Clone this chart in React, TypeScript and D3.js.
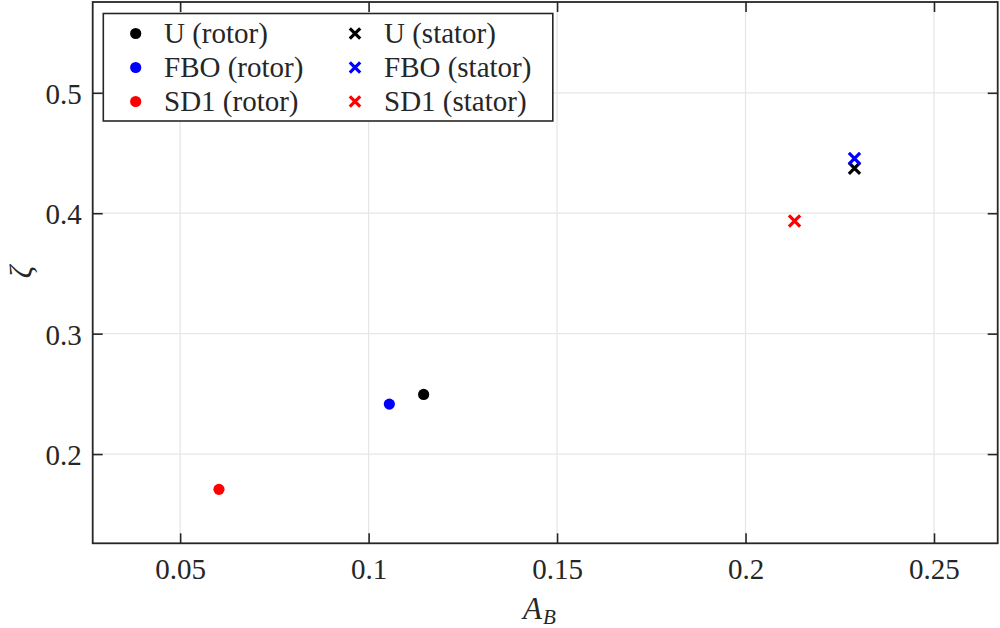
import React, {useEffect, useRef} from 'react'
import * as d3 from 'd3'

// values
const series = ['U', 'FBO', 'SD1']
const seriesColors = ['#000000', '#0000ff', '#ff0000']
const rotorAB = [0.1146, 0.1055, 0.0603]
const rotorZeta = [0.2495, 0.2415, 0.1707]
const statorAB = [0.2289, 0.2289, 0.2130]
const statorZeta = [0.4373, 0.4455, 0.3936]

const xTicks = [0.05, 0.1, 0.15, 0.2, 0.25]
const yTicks = [0.2, 0.3, 0.4, 0.5]
const xDomain = [0.0268, 0.2669]
const yDomain = [0.1259, 0.5754]

const W = 1000
const H = 628
const FONT = '"Liberation Serif", "Times New Roman", serif'

export default function App() {
    const svgRef = useRef<SVGSVGElement>(null)

    useEffect(() => {
        document.body.style.margin = '0'
        const svg = d3.select(svgRef.current)
        svg.selectAll('*').remove()

        const margin = {top: 2, right: 2.3, bottom: 84.7, left: 92.7}
        const iw = W - margin.left - margin.right
        const ih = H - margin.top - margin.bottom

        const x = d3.scaleLinear().domain(xDomain).range([0, iw])
        const y = d3.scaleLinear().domain(yDomain).range([ih, 0])

        svg.append('rect').attr('width', W).attr('height', H).attr('fill', '#fff')

        const g = svg.append('g').attr('transform', `translate(${margin.left},${margin.top})`)

        // grid
        g.append('g')
            .selectAll('line.gx')
            .data(xTicks)
            .join('line')
            .attr('x1', (d) => x(d))
            .attr('x2', (d) => x(d))
            .attr('y1', 0)
            .attr('y2', ih)
            .attr('stroke', '#e6e6e6')
            .attr('stroke-width', 1.3)
        g.append('g')
            .selectAll('line.gy')
            .data(yTicks)
            .join('line')
            .attr('x1', 0)
            .attr('x2', iw)
            .attr('y1', (d) => y(d))
            .attr('y2', (d) => y(d))
            .attr('stroke', '#e6e6e6')
            .attr('stroke-width', 1.3)

        // axes: box with inward ticks on all sides
        const axisColor = '#262626'
        const fmt = (d: d3.NumberValue) => String(+d)
        const styleAxis = (sel: d3.Selection<SVGGElement, unknown, null, undefined>) => {
            sel.select('.domain').remove()
            sel.selectAll('.tick line').attr('stroke', axisColor).attr('stroke-width', 1.6)
            sel.selectAll('.tick text')
                .attr('fill', axisColor)
                .attr('font-family', FONT)
                .attr('font-size', 29)
        }

        const bottom = g.append('g').attr('transform', `translate(0,${ih})`)
            .call(d3.axisBottom(x).tickValues(xTicks).tickFormat(fmt).tickSizeInner(-10).tickSizeOuter(0).tickPadding(15))
        styleAxis(bottom)
        const top = g.append('g')
            .call(d3.axisTop(x).tickValues(xTicks).tickFormat(() => '').tickSizeInner(-10).tickSizeOuter(0))
        styleAxis(top)
        const left = g.append('g')
            .call(d3.axisLeft(y).tickValues(yTicks).tickFormat(fmt).tickSizeInner(-10).tickSizeOuter(0).tickPadding(11))
        styleAxis(left)
        left.selectAll('.tick text').attr('dy', '0.36em')
        const right = g.append('g').attr('transform', `translate(${iw},0)`)
            .call(d3.axisRight(y).tickValues(yTicks).tickFormat(() => '').tickSizeInner(-10).tickSizeOuter(0))
        styleAxis(right)

        g.append('rect')
            .attr('width', iw)
            .attr('height', ih)
            .attr('fill', 'none')
            .attr('stroke', axisColor)
            .attr('stroke-width', 1.8)

        // data points
        const cross = (sel: d3.Selection<SVGGElement, number, SVGGElement, unknown>, s: number) => {
            sel.append('path')
                .attr('d', `M${-s},${-s}L${s},${s}M${-s},${s}L${s},${-s}`)
                .attr('stroke-width', 3.2)
                .attr('fill', 'none')
        }

        g.append('g')
            .selectAll('circle')
            .data(series.map((_, i) => i))
            .join('circle')
            .attr('cx', (i) => x(rotorAB[i]))
            .attr('cy', (i) => y(rotorZeta[i]))
            .attr('r', 5.6)
            .attr('fill', (i) => seriesColors[i])

        const stators = g.append('g')
            .selectAll<SVGGElement, number>('g')
            .data([0, 2, 1])
            .join('g')
            .attr('transform', (i) => `translate(${x(statorAB[i])},${y(statorZeta[i])})`)
            .attr('stroke', (i) => seriesColors[i])
        cross(stators, 5.6)

        // axis labels
        const xl = svg.append('text')
            .attr('x', 523)
            .attr('y', 619)
            .attr('font-family', FONT)
            .attr('font-size', 31)
            .attr('fill', axisColor)
        xl.append('tspan').attr('font-style', 'italic').text('A')
        xl.append('tspan').attr('font-style', 'italic').attr('font-size', 21).attr('dy', 5).attr('dx', 1).text('B')

        svg.append('text')
            .attr('x', 21)
            .attr('y', 272)
            .attr('font-family', FONT)
            .attr('font-style', 'italic')
            .attr('font-size', 31)
            .attr('fill', axisColor)
            .attr('text-anchor', 'middle')
            .attr('dominant-baseline', 'central')
            .attr('transform', 'rotate(-90,21,272)')
            .text('ζ')

        // legend
        const lg = svg.append('g')
        lg.append('rect')
            .attr('x', 103.3)
            .attr('y', 13.5)
            .attr('width', 449.5)
            .attr('height', 107.5)
            .attr('fill', '#fff')
            .attr('stroke', axisColor)
            .attr('stroke-width', 1.6)
        const rowY = [33.5, 67.5, 101.5]
        series.forEach((name, i) => {
            lg.append('circle')
                .attr('cx', 135.7)
                .attr('cy', rowY[i])
                .attr('r', 5.6)
                .attr('fill', seriesColors[i])
            lg.append('text')
                .attr('x', 164)
                .attr('y', rowY[i])
                .attr('dy', '0.34em')
                .attr('font-family', FONT)
                .attr('font-size', 29)
                .attr('fill', axisColor)
                .text(`${name} (rotor)`)
            const s = 5.2
            lg.append('path')
                .attr('transform', `translate(355,${rowY[i]})`)
                .attr('d', `M${-s},${-s}L${s},${s}M${-s},${s}L${s},${-s}`)
                .attr('stroke', seriesColors[i])
                .attr('stroke-width', 3.2)
            lg.append('text')
                .attr('x', 384)
                .attr('y', rowY[i])
                .attr('dy', '0.34em')
                .attr('font-family', FONT)
                .attr('font-size', 29)
                .attr('fill', axisColor)
                .text(`${name} (stator)`)
        })
    }, [])

    return <svg ref={svgRef} width={W} height={H} style={{display: 'block'}} />
}
